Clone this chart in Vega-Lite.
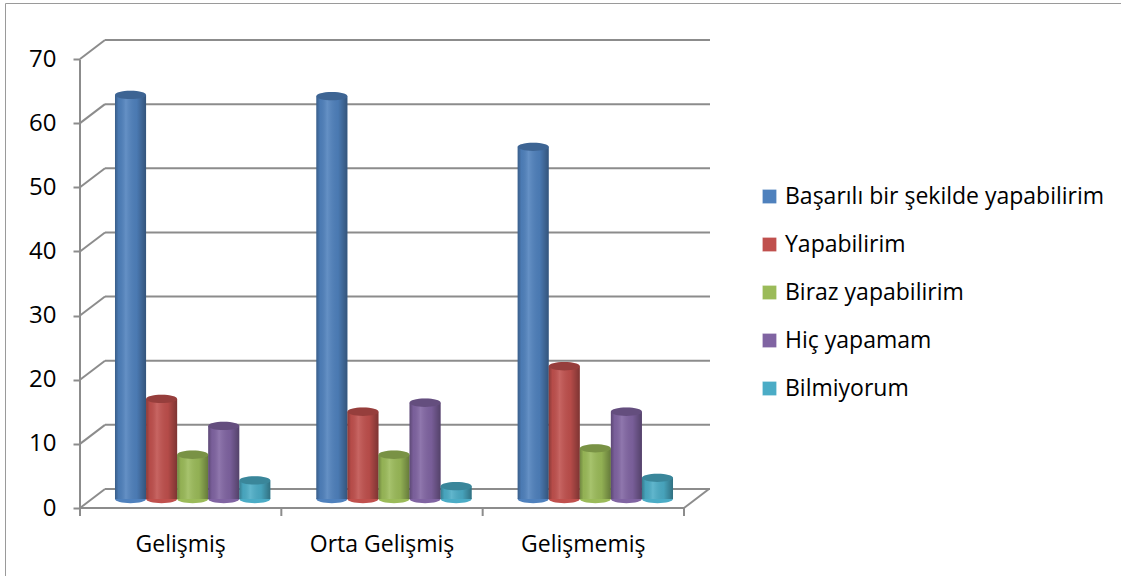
{
  "$schema": "https://vega.github.io/schema/vega-lite/v6.json",
  "autosize": "none",
  "width": 1116,
  "height": 573,
  "padding": {"left": 5, "top": 3, "right": 0, "bottom": 0},
  "background": "white",
  "config": {
    "view": {"stroke": "#9a9a9a", "strokeWidth": 1, "fill": "white"},
    "font": "Open Sans",
    "axis": {"labelFont": "Open Sans", "labelColor": "#000000", "tickColor": "#8c8c8c", "tickWidth": 2, "domain": false, "grid": false}
  },
  "datasets": {
    "bars": [
      {"region": "Gelişmiş", "series": "Başarılı bir şekilde yapabilirim", "value": 63.0},
      {"region": "Gelişmiş", "series": "Yapabilirim", "value": 15.6},
      {"region": "Gelişmiş", "series": "Biraz yapabilirim", "value": 6.9},
      {"region": "Gelişmiş", "series": "Hiç yapamam", "value": 11.4},
      {"region": "Gelişmiş", "series": "Bilmiyorum", "value": 2.9},
      {"region": "Orta Gelişmiş", "series": "Başarılı bir şekilde yapabilirim", "value": 62.8},
      {"region": "Orta Gelişmiş", "series": "Yapabilirim", "value": 13.6},
      {"region": "Orta Gelişmiş", "series": "Biraz yapabilirim", "value": 6.9},
      {"region": "Orta Gelişmiş", "series": "Hiç yapamam", "value": 15.0},
      {"region": "Orta Gelişmiş", "series": "Bilmiyorum", "value": 2.0},
      {"region": "Gelişmemiş", "series": "Başarılı bir şekilde yapabilirim", "value": 54.9},
      {"region": "Gelişmemiş", "series": "Yapabilirim", "value": 20.7},
      {"region": "Gelişmemiş", "series": "Biraz yapabilirim", "value": 7.9},
      {"region": "Gelişmemiş", "series": "Hiç yapamam", "value": 13.6},
      {"region": "Gelişmemiş", "series": "Bilmiyorum", "value": 3.3}
    ],
    "grid": [{"v": 0}, {"v": 10}, {"v": 20}, {"v": 30}, {"v": 40}, {"v": 50}, {"v": 60}, {"v": 70}],
    "cats": [{"region": "Gelişmiş", "v": 0}, {"region": "Orta Gelişmiş", "v": 0}, {"region": "Gelişmemiş", "v": 0}]
  },
  "layer": [
    {
      "data": {"name": "grid"},
      "mark": {"type": "rule", "color": "#8c8c8c", "strokeWidth": 2, "xOffset": 13, "x2Offset": 14, "yOffset": -10},
      "encoding": {
        "y": {"field": "v", "type": "quantitative", "title": null},
        "x": {"datum": "Gelişmiş", "type": "nominal", "bandPosition": 0, "title": null},
        "x2": {"datum": "Gelişmemiş", "bandPosition": 1}
      }
    },
    {
      "data": {"name": "grid"},
      "mark": {"type": "rule", "color": "#8c8c8c", "strokeWidth": 2, "xOffset": -12, "x2Offset": 13, "yOffset": 9, "y2Offset": -10},
      "encoding": {
        "y": {"field": "v", "type": "quantitative", "title": null},
        "y2": {"field": "v"},
        "x": {"datum": "Gelişmiş", "type": "nominal", "bandPosition": 0, "title": null},
        "x2": {"datum": "Gelişmiş", "bandPosition": 0}
      }
    },
    {
      "data": {"values": [{"v": 0}]},
      "mark": {"type": "rule", "color": "#8c8c8c", "strokeWidth": 2, "xOffset": -12, "x2Offset": 13, "yOffset": 9, "y2Offset": -10},
      "encoding": {
        "y": {"field": "v", "type": "quantitative", "title": null},
        "y2": {"field": "v"},
        "x": {"datum": "Gelişmemiş", "type": "nominal", "bandPosition": 1, "title": null},
        "x2": {"datum": "Gelişmemiş", "bandPosition": 1}
      }
    },
    {
      "data": {"values": [{"v": 0}]},
      "mark": {"type": "rule", "color": "#8c8c8c", "strokeWidth": 2, "xOffset": -12, "yOffset": 9, "y2Offset": 17},
      "encoding": {
        "y": {"field": "v", "type": "quantitative", "title": null},
        "y2": {"field": "v"},
        "x": {"datum": "Gelişmemiş", "type": "nominal", "bandPosition": 1, "title": null}
      }
    },
    {
      "data": {"name": "cats"},
      "mark": {"type": "rule", "color": "#8c8c8c", "strokeWidth": 2, "xOffset": -12, "yOffset": 9, "y2Offset": 17},
      "encoding": {
        "y": {"field": "v", "type": "quantitative", "title": null},
        "y2": {"field": "v"},
        "x": {"field": "region", "type": "nominal", "bandPosition": 0, "title": null}
      }
    },
    {
      "data": {"values": [{"v": 0, "v2": 70}]},
      "mark": {"type": "rule", "color": "#8c8c8c", "strokeWidth": 2, "xOffset": -12, "yOffset": 9, "y2Offset": 10},
      "encoding": {
        "y": {"field": "v", "type": "quantitative", "title": null},
        "y2": {"field": "v2"},
        "x": {"datum": "Gelişmiş", "type": "nominal", "bandPosition": 0, "title": null}
      }
    },
    {
      "data": {"values": [{"v": 0}]},
      "mark": {"type": "rule", "color": "#8c8c8c", "strokeWidth": 2, "xOffset": -12, "x2Offset": -12, "yOffset": 9},
      "encoding": {
        "y": {"field": "v", "type": "quantitative", "title": null},
        "x": {"datum": "Gelişmiş", "type": "nominal", "bandPosition": 0, "title": null},
        "x2": {"datum": "Gelişmemiş", "bandPosition": 1}
      }
    },
    {
      "data": {"name": "bars"},
      "mark": {"type": "point", "shape": "M -1 0 A 1 0.27 0 1 0 1 0 A 1 0.27 0 1 0 -1 0 Z", "size": 961, "filled": true, "opacity": 1, "strokeWidth": 0},
      "encoding": {
        "x": {"field": "region", "type": "nominal", "title": null},
        "xOffset": {"field": "series", "type": "nominal"},
        "y": {"datum": 0, "type": "quantitative", "title": null},
        "color": {"field": "series", "type": "nominal", "title": null}
      }
    },
    {
      "data": {"name": "bars"},
      "mark": {"type": "bar", "width": {"band": 1}},
      "encoding": {
        "x": {
          "field": "region", "type": "nominal", "title": null,
          "scale": {"domain": ["Gelişmiş", "Orta Gelişmiş", "Gelişmemiş"], "range": [87, 691], "paddingInner": 0, "paddingOuter": 0},
          "axis": {"title": null, "orient": "bottom", "offset": -68, "ticks": false, "labelOffset": -12, "labelFontSize": 23, "labelPadding": 36, "labelAngle": 0, "labelAlign": "center"}
        },
        "xOffset": {
          "field": "series", "type": "nominal",
          "scale": {"domain": ["Başarılı bir şekilde yapabilirim", "Yapabilirim", "Biraz yapabilirim", "Hiç yapamam", "Bilmiyorum"], "paddingInner": 0, "paddingOuter": 0.74}
        },
        "y": {
          "field": "value", "type": "quantitative", "title": null,
          "scale": {"domain": [0, 70], "range": [496, 47], "nice": false, "zero": true},
          "axis": {"title": null, "orient": "left", "offset": -75, "values": [0, 10, 20, 30, 40, 50, 60, 70], "tickOffset": 9, "tickSize": 7, "labelFontSize": 24, "labelPadding": 17}
        },
        "color": {
          "field": "series", "type": "nominal", "title": null,
          "scale": {"domain": ["Başarılı bir şekilde yapabilirim", "Yapabilirim", "Biraz yapabilirim", "Hiç yapamam", "Bilmiyorum"], "range": ["#4f81bd", "#c0504d", "#9bbb59", "#8064a2", "#4bacc6"]},
          "legend": {"orient": "none", "legendX": 753, "legendY": 182, "title": null, "symbolType": "square", "symbolSize": 190, "symbolStrokeWidth": 0, "labelFontSize": 23, "labelFont": "Open Sans", "labelColor": "#000000", "labelOffset": 4, "labelLimit": 0, "rowPadding": 24, "padding": 0}
        }
      }
    },
    {
      "data": {"name": "bars"},
      "mark": {"type": "bar", "color": {"gradient": "linear", "x1": 0, "x2": 1, "y1": 0, "y2": 0, "stops": [
        {"offset": 0, "color": "rgba(0,0,0,0.28)"},
        {"offset": 0.12, "color": "rgba(0,0,0,0.05)"},
        {"offset": 0.35, "color": "rgba(255,255,255,0.12)"},
        {"offset": 0.7, "color": "rgba(0,0,0,0.06)"},
        {"offset": 1, "color": "rgba(0,0,0,0.35)"}
      ]}},
      "encoding": {
        "x": {"field": "region", "type": "nominal", "title": null},
        "xOffset": {"field": "series", "type": "nominal"},
        "y": {"field": "value", "type": "quantitative", "title": null}
      }
    },
    {
      "data": {"name": "bars"},
      "mark": {"type": "point", "shape": "M -1 0 A 1 0.27 0 1 0 1 0 A 1 0.27 0 1 0 -1 0 Z", "size": 961, "filled": true, "opacity": 1, "strokeWidth": 0},
      "encoding": {
        "x": {"field": "region", "type": "nominal", "title": null},
        "xOffset": {"field": "series", "type": "nominal"},
        "y": {"field": "value", "type": "quantitative", "title": null},
        "color": {"field": "series", "type": "nominal", "title": null}
      }
    },
    {
      "data": {"name": "bars"},
      "mark": {"type": "point", "shape": "M -1 0 A 1 0.27 0 1 0 1 0 A 1 0.27 0 1 0 -1 0 Z", "size": 961, "filled": true, "fill": "#000000", "opacity": 0.22, "strokeWidth": 0},
      "encoding": {
        "x": {"field": "region", "type": "nominal", "title": null},
        "xOffset": {"field": "series", "type": "nominal"},
        "y": {"field": "value", "type": "quantitative", "title": null}
      }
    }
  ]
}
